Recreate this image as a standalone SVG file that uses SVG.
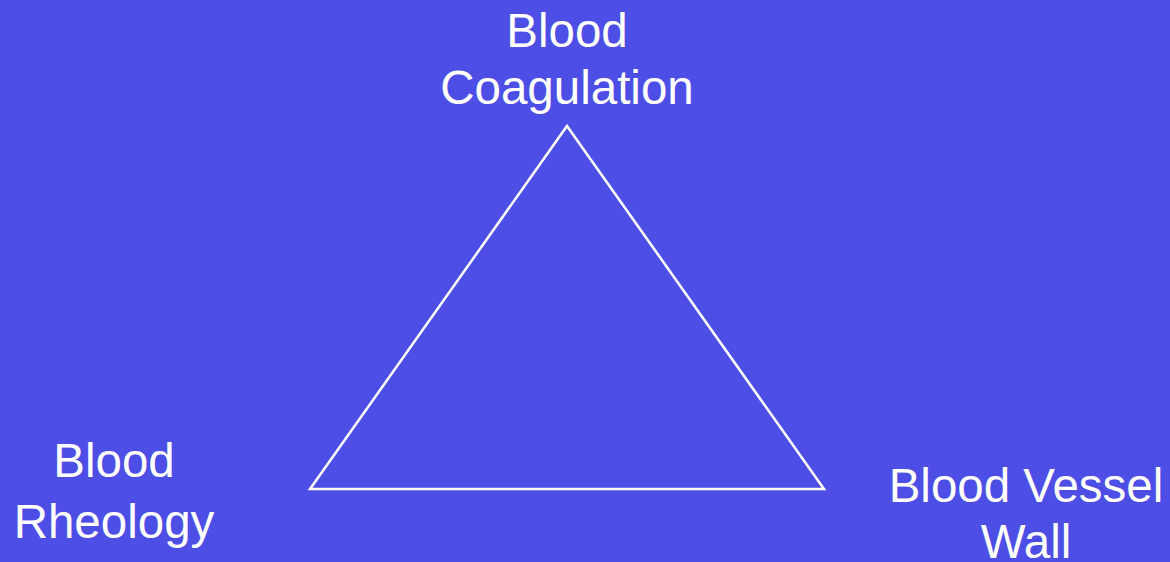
<svg xmlns="http://www.w3.org/2000/svg" width="1170" height="562" viewBox="0 0 1170 562">
<style>
.lbl{font-family:"Liberation Sans",Arial,sans-serif;font-size:47.5px;fill:#ffffff;text-anchor:middle}
.edge{stroke:#ffffff;stroke-width:2.5;fill:none;stroke-linejoin:miter}
</style>
<rect width="1170" height="562" fill="#4D4EE5"/>
<g id="connectors">
<polygon class="edge" points="567,126 824,489 310,489"/>
</g>
<g id="node-coagulation">
<text class="lbl" x="567" y="47">Blood</text>
<text class="lbl" x="567" y="104">Coagulation</text>
</g>
<g id="node-rheology">
<text class="lbl" x="114" y="477">Blood</text>
<text class="lbl" x="114" y="538">Rheology</text>
</g>
<g id="node-wall">
<text class="lbl" x="1026" y="502">Blood Vessel</text>
<text class="lbl" x="1026" y="558">Wall</text>
</g>
</svg>
